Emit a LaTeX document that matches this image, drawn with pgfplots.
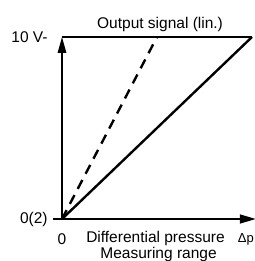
\documentclass[border=0pt]{standalone}
\usepackage{pgfplots}
\pgfplotsset{compat=1.18}
\usepackage{fontspec}
\setmainfont{Liberation Sans}
\usetikzlibrary{arrows.meta}
\begin{document}
\fontsize{15.5}{17}\selectfont
\begin{tikzpicture}
\useasboundingbox (-62pt,-42pt) rectangle (192pt,219pt);
\begin{axis}[
  anchor=origin, at={(0pt,0pt)},
  x=190pt, y=182pt,
  xmin=0, xmax=1.02, ymin=0, ymax=1,
  axis lines=left,
  axis line style={line width=1.5pt},
  x axis line style={-{Triangle[length=16pt,width=9pt]}},
  y axis line style={-{Triangle[length=16pt,width=8.5pt]}},
  clip=false,
  xtick={0}, xticklabels={0},
  xtick style={draw=none},
  ytick={0}, yticklabels={0(2)},
  ytick style={line width=1.5pt, black},
  tick align=outside, major tick length=9pt,
  extra y ticks={1}, extra y tick labels={10 V-},
  extra y tick style={tick style={draw=none}},
  ticklabel style={font=\fontsize{15.5}{17}\selectfont},
  /pgf/number format/assume math mode=true,
]
\addplot[line width=1.5pt] coordinates {(0,1) (1,1)};
\addplot[line width=2.4pt] coordinates {(0,0) (1,1)};
\addplot[line width=2.4pt, dash pattern=on 10pt off 7pt] coordinates {(0,0) (0.5,1)};
\node[anchor=base] at (axis cs:0.516,1.044) {Output signal (lin.)};
\node[anchor=base] at (axis cs:0.492,-0.1264) {Differential pressure};
\node[anchor=base] at (axis cs:0.508,-0.2143) {Measuring range};
\node[anchor=base east, inner sep=0pt, font=\fontsize{13}{14}\selectfont] at (axis cs:1.0105,-0.1264) {Δp};
\end{axis}
\end{tikzpicture}
\end{document}
